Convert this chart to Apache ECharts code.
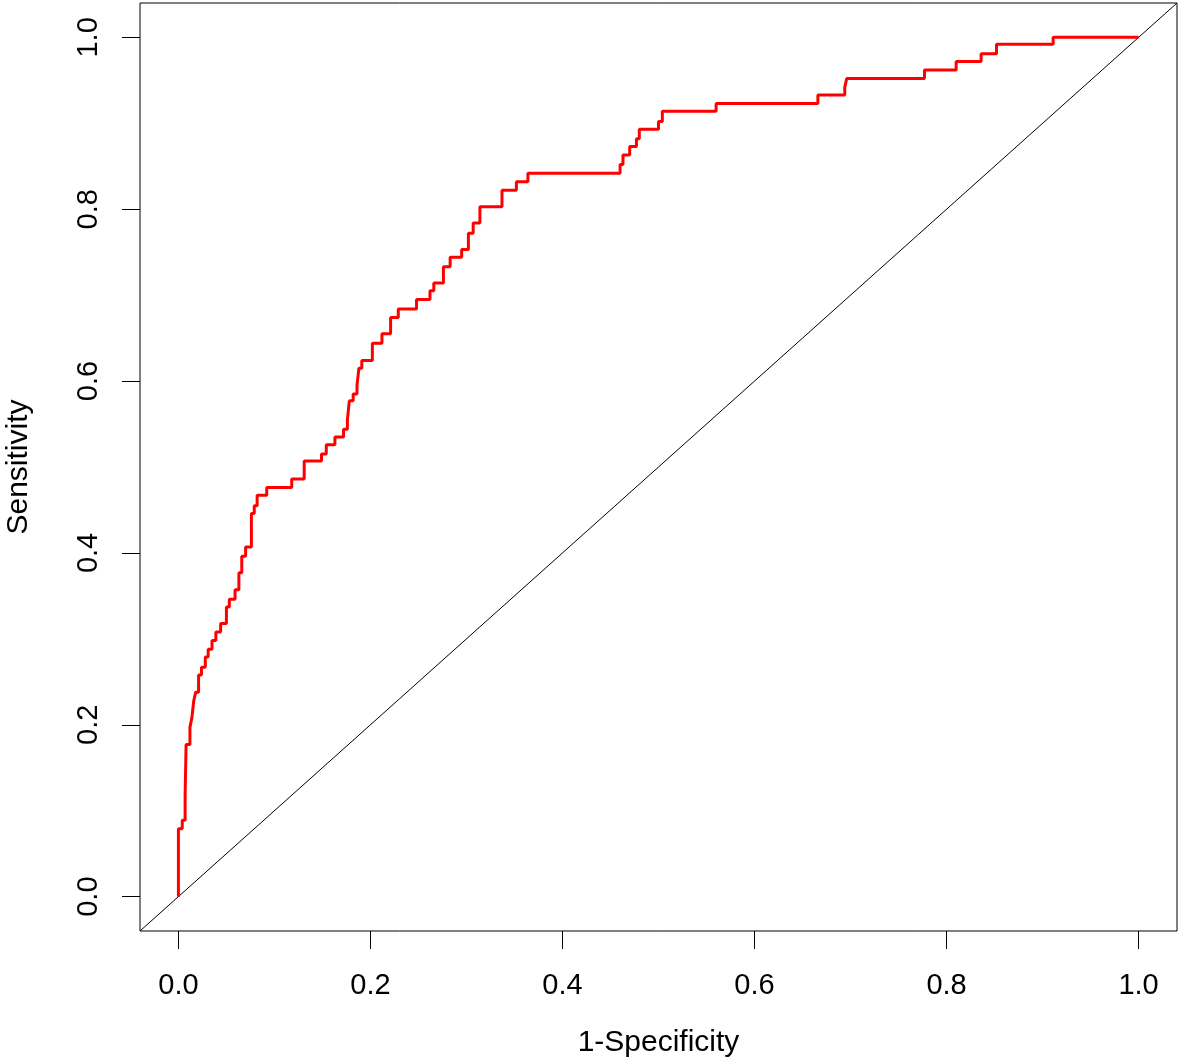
<!DOCTYPE html>
<html>
<head>
<meta charset="utf-8" />
<title>ROC</title>
<script src="https://cdn.jsdelivr.net/npm/echarts@6/dist/echarts.min.js"></script>
<style>
  html, body { margin: 0; padding: 0; background: #fff; }
  #main { width: 1180px; height: 1062px; }
</style>
</head>
<body>
<div id="main"></div>
<script>
// ROC curve corners (1-specificity, sensitivity)
const fpr = [0, 0, 0.004, 0.007, 0.008, 0.012, 0.014, 0.016, 0.018, 0.021, 0.024, 0.028, 0.031, 0.035, 0.039, 0.044,
  0.050, 0.053, 0.059, 0.063, 0.066, 0.070, 0.076, 0.079, 0.082, 0.092, 0.118, 0.131, 0.149, 0.154, 0.163, 0.172,
  0.176, 0.178, 0.182, 0.186, 0.188, 0.191, 0.202, 0.212, 0.221, 0.229, 0.248, 0.262, 0.266, 0.276, 0.283, 0.295,
  0.302, 0.307, 0.314, 0.337, 0.352, 0.364, 0.460, 0.463, 0.470, 0.477, 0.480, 0.500, 0.504, 0.560, 0.666, 0.694,
  0.696, 0.777, 0.810, 0.836, 0.852, 0.911, 1.0];
const tpr = [0, 0.079, 0.089, 0.118, 0.177, 0.197, 0.208, 0.228, 0.238, 0.258, 0.267, 0.279, 0.288, 0.298, 0.308, 0.318,
  0.337, 0.346, 0.357, 0.377, 0.396, 0.407, 0.446, 0.455, 0.467, 0.476, 0.486, 0.507, 0.515, 0.526, 0.535, 0.544,
  0.555, 0.577, 0.585, 0.595, 0.615, 0.624, 0.644, 0.655, 0.674, 0.684, 0.695, 0.705, 0.714, 0.733, 0.744, 0.753,
  0.772, 0.784, 0.803, 0.822, 0.832, 0.842, 0.852, 0.863, 0.873, 0.882, 0.893, 0.902, 0.914, 0.923, 0.933, 0.942,
  0.952, 0.962, 0.972, 0.981, 0.992, 1.0, 1.0];

// reference line y = x across the whole plot range
const diagX = [-0.04, 1.04];
const diagY = [-0.04, 1.04];

const xTicks = [0, 0.2, 0.4, 0.6, 0.8, 1.0];
const yTicks = [0, 0.2, 0.4, 0.6, 0.8, 1.0];

const axisMin = -0.04;
const axisMax = 1.04;

const font = "'Liberation Sans', Arial, sans-serif";

const myChart = echarts.init(document.getElementById("main"));

const option = {
  animation: false,
  backgroundColor: "#fff",
  grid: {
    left: 140,
    right: 3,
    top: 3,
    bottom: 131,
    containLabel: false,
    outerBoundsMode: "none",
    show: true,
    borderColor: "#000",
    borderWidth: 1,
    backgroundColor: "transparent",
  },
  xAxis: {
    type: "value",
    min: axisMin,
    max: axisMax,
    name: "1-Specificity",
    nameLocation: "middle",
    nameGap: 97,
    nameTextStyle: { fontSize: 30, color: "#000", fontFamily: font },
    axisLine: { show: false, onZero: false },
    splitLine: { show: false },
    axisTick: {
      show: true,
      inside: false,
      length: 18,
      customValues: xTicks,
      lineStyle: { color: "#000", width: 1 },
    },
    axisLabel: {
      customValues: xTicks,
      margin: 40,
      fontSize: 29,
      color: "#000",
      fontFamily: font,
      formatter: (v) => v.toFixed(1),
    },
  },
  yAxis: {
    type: "value",
    min: axisMin,
    max: axisMax,
    name: "Sensitivity",
    nameLocation: "middle",
    nameGap: 106,
    nameRotate: 90,
    nameTextStyle: { fontSize: 30, color: "#000", fontFamily: font },
    axisLine: { show: false, onZero: false },
    splitLine: { show: false },
    axisTick: {
      show: true,
      inside: false,
      length: 18,
      customValues: yTicks,
      lineStyle: { color: "#000", width: 1 },
    },
    axisLabel: {
      customValues: yTicks,
      rotate: 90,
      margin: 37,
      fontSize: 29,
      color: "#000",
      fontFamily: font,
      formatter: (v) => v.toFixed(1),
    },
  },
  series: [
    {
      type: "line",
      data: diagX.map((x, i) => [x, diagY[i]]),
      symbol: "none",
      silent: true,
      lineStyle: { color: "#000", width: 1 },
      z: 1,
    },
    {
      type: "line",
      step: "end",
      data: fpr.map((x, i) => [x, tpr[i]]),
      symbol: "none",
      lineStyle: { color: "#ff0000", width: 3 },
      z: 2,
    },
  ],
};

myChart.setOption(option);
</script>
</body>
</html>
